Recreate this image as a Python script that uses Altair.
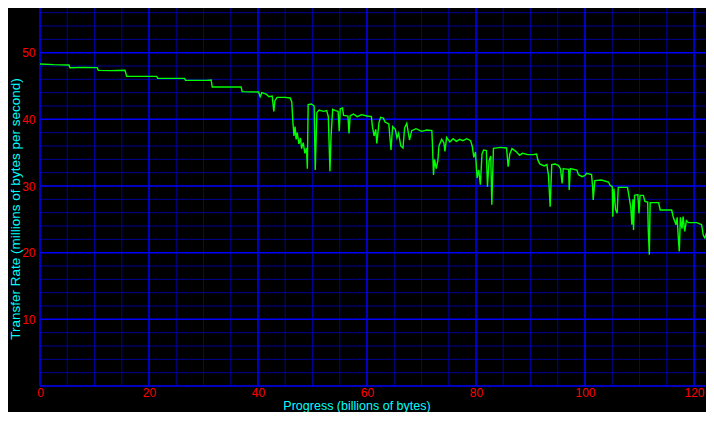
import altair as alt
import pandas as pd

# Progress (billions of bytes)
progress = [
    0.0, 2.5, 5.3, 5.5, 8.0, 10.5, 10.7, 13.0, 15.6, 15.9, 21.4, 21.6, 26.5, 26.7, 30.5, 31.4, 31.6,
    36.9, 37.1, 40.1, 40.4, 40.7, 41.5, 42.0, 42.6, 42.9, 43.1, 43.5, 45.0, 45.9, 46.2, 46.4, 46.6,
    46.8, 47.0, 47.2, 47.5, 47.8, 48.0, 48.3, 48.6, 48.9, 49.05, 49.2, 49.8, 50.3, 50.5, 50.8, 51.2,
    52.0, 52.6, 52.9, 53.2, 53.4, 53.7, 54.2, 54.7, 54.9, 55.1, 55.5, 55.7, 56.5, 56.7, 56.9, 57.5,
    58.2, 59.0, 60.0, 60.8, 61.0, 61.3, 61.6, 61.8, 62.2, 62.5, 63.0, 63.3, 64.0, 64.4, 64.7, 65.2,
    65.5, 65.8, 66.2, 66.6, 66.9, 67.3, 67.8, 68.2, 69.0, 70.0, 71.0, 71.9, 72.0, 72.2, 72.4, 72.7,
    73.0, 73.2, 73.7, 74.1, 74.3, 74.6, 75.2, 75.8, 76.4, 77.0, 77.6, 78.3, 79.0, 79.3, 79.6, 79.9,
    80.2, 80.5, 80.8, 81.1, 81.4, 81.9, 82.1, 82.4, 82.7, 82.9, 83.2, 84.5, 85.6, 85.9, 86.2, 86.6,
    87.3, 88.0, 88.5, 89.5, 90.5, 91.1, 91.4, 91.7, 92.5, 93.0, 93.3, 93.6, 93.9, 94.5, 95.1, 95.5,
    95.8, 96.0, 97.0, 97.1, 97.3, 98.5, 98.8, 99.5, 100.0, 100.3, 101.2, 101.4, 101.5, 101.8, 103.0,
    104.3, 104.6, 105.0, 105.1, 105.3, 105.6, 105.9, 106.1, 107.8, 108.1, 108.4, 108.6, 108.8, 108.9,
    109.1, 109.7, 109.9, 110.1, 110.7, 111.0, 111.5, 111.6, 111.8, 111.95, 113.5, 113.8, 115.9, 116.2,
    116.7, 116.9, 117.1, 117.3, 117.5, 117.8, 118.0, 118.3, 118.6, 119.0, 120.5, 121.4, 121.7, 122.0,
    122.3, 122.6, 123.3,
]

# Transfer rate (millions of bytes per second)
rate = [
    48.3, 48.2, 48.15, 47.75, 47.8, 47.75, 47.35, 47.3, 47.35, 46.45, 46.45, 46.15, 46.15, 45.85, 45.85, 45.9, 44.85,
    44.85, 44.15, 44.1, 43.4, 44.0, 43.8, 43.4, 43.5, 41.2, 42.8, 43.3, 43.3, 43.2, 42.6, 39.6, 37.5,
    38.9, 37.0, 38.0, 36.3, 37.2, 35.6, 36.5, 34.9, 35.7, 32.6, 42.2, 42.3, 42.0, 32.4, 41.0, 41.4,
    41.2, 41.3, 40.4, 32.2, 37.4, 41.5, 41.3, 41.2, 38.2, 41.6, 41.7, 40.6, 40.5, 37.9, 40.5, 40.8,
    40.4, 40.7, 40.5, 40.4, 38.9, 37.5, 38.5, 36.4, 39.5, 40.3, 40.2, 39.6, 39.3, 35.4, 38.9, 38.5,
    37.2, 37.9, 36.0, 35.7, 38.7, 39.4, 36.9, 38.3, 38.6, 38.2, 38.4, 38.3, 36.4, 31.65, 34.0, 32.6,
    33.8, 36.0, 37.0, 36.5, 35.2, 37.3, 36.6, 37.1, 36.7, 37.0, 36.8, 37.1, 36.8, 36.0, 34.3, 35.1,
    31.2, 32.4, 30.2, 34.8, 35.4, 35.3, 29.9, 33.8, 34.5, 27.2, 35.65, 35.8, 35.7, 32.9, 34.8, 35.6,
    35.2, 34.6, 34.9, 34.7, 34.7, 34.8, 33.8, 33.3, 33.0, 33.2, 31.6, 26.9, 33.2, 33.3, 33.1, 32.6,
    30.4, 32.6, 32.5, 29.4, 32.6, 32.4, 31.7, 31.4, 31.6, 31.9, 31.7, 29.9, 27.9, 30.8, 30.9,
    30.6, 30.1, 29.9, 25.4, 29.6, 26.5, 25.9, 29.8, 29.8, 28.3, 26.8, 24.2, 28.0, 23.4,
    28.6, 28.7, 25.9, 28.6, 28.6, 27.7, 27.6, 23.6, 19.7, 27.5, 27.5, 26.4, 26.4, 25.3,
    24.2, 25.3, 22.5, 20.2, 25.3, 23.6, 25.4, 23.2, 24.8, 24.5, 24.5, 24.2, 22.6, 22.2,
    23.0, 23.2, 23.1,
]

x_major = [0, 20, 40, 60, 80, 100, 120]
x_minor = [5, 10, 15, 25, 30, 35, 45, 50, 55, 65, 70, 75, 85, 90, 95, 105, 110, 115]
y_major = [0, 10, 20, 30, 40, 50]
y_minor = [2, 4, 6, 8, 12, 14, 16, 18, 22, 24, 26, 28, 32, 34, 36, 38, 42, 44, 46, 48, 52, 54, 56]
x_labels = [0, 20, 40, 60, 80, 100, 120]
y_labels = [10, 20, 30, 40, 50]

FONT = "Liberation Sans"
MAJOR = "#0000FF"
MINOR = "#000098"

xs = alt.Scale(domain=[0, 122.2], nice=False, zero=False)
ys = alt.Scale(domain=[0, 56.7], nice=False, zero=False)

ax_x = alt.Axis(
    values=x_labels, title="Progress (billions of bytes)", grid=False, domain=False, ticks=False,
    labelFlush=False, labelColor="#FF0000", labelFont=FONT, labelFontSize=12, labelPadding=1,
    titleColor="#00FFFF", titleFont=FONT, titleFontSize=12.5, titleFontWeight="normal",
    titleX=316.5, titleY=23, titleBaseline="alphabetic", titleAlign="center")
ax_y = alt.Axis(
    values=y_labels, title="Transfer Rate (millions of bytes per second)", grid=False,
    domain=False, ticks=False, labelColor="#FF0000", labelFont=FONT, labelFontSize=12,
    labelPadding=5, titleColor="#00FFFF", titleFont=FONT, titleFontSize=13.5,
    titleFontWeight="normal", titleX=-25, titleY=200.5, titleAngle=270,
    titleBaseline="middle", titleAlign="center")

df = pd.DataFrame({"x": progress, "y": rate, "i": range(len(progress))})

minor_x = alt.Chart(pd.DataFrame({"x": x_minor})).mark_rule(color=MINOR, strokeWidth=1).encode(
    x=alt.X("x:Q", scale=xs, axis=ax_x))
minor_y = alt.Chart(pd.DataFrame({"y": y_minor})).mark_rule(color=MINOR, strokeWidth=1).encode(
    y=alt.Y("y:Q", scale=ys, axis=ax_y))
major_x = alt.Chart(pd.DataFrame({"x": x_major})).mark_rule(color=MAJOR, strokeWidth=1.5).encode(
    x=alt.X("x:Q", scale=xs, axis=ax_x))
major_y = alt.Chart(pd.DataFrame({"y": y_major})).mark_rule(color=MAJOR, strokeWidth=1.5).encode(
    y=alt.Y("y:Q", scale=ys, axis=ax_y))

line = alt.Chart(df).mark_line(color="#00FF00", strokeWidth=1.4, clip=True).encode(
    x=alt.X("x:Q", scale=xs, axis=ax_x),
    y=alt.Y("y:Q", scale=ys, axis=ax_y),
    order="i:Q",
)

chart = alt.layer(minor_x, minor_y, major_x, major_y, line).properties(
    width=666, height=378,
    autosize=alt.AutoSizeParams(type="none"),
    padding={"left": 32, "top": 0, "right": 0, "bottom": 26},
    background="#000000",
).configure_view(strokeWidth=0)

chart.save("out.html", embed_options={"renderer": "svg", "actions": False})
